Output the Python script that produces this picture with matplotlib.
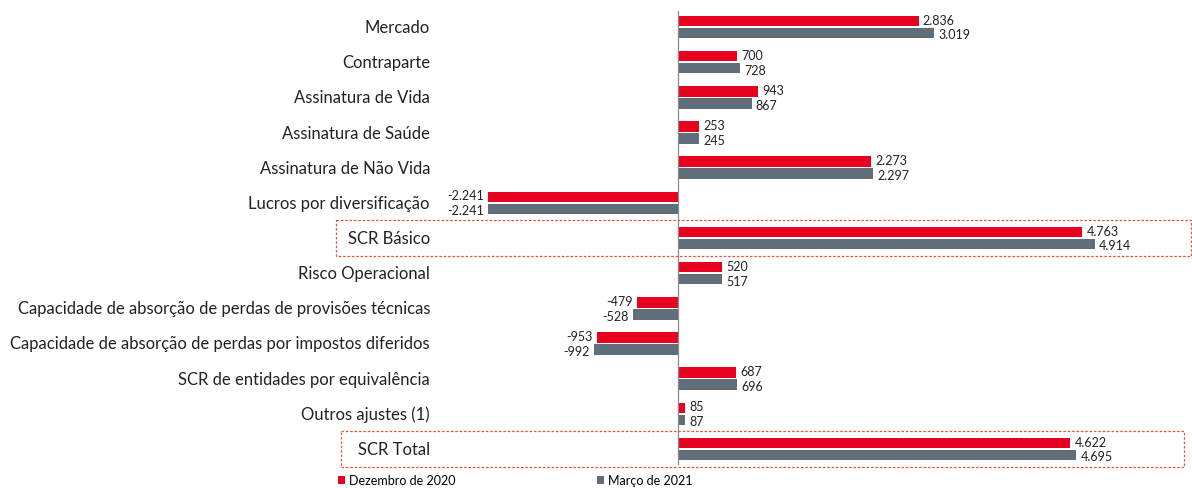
import matplotlib.pyplot as plt
from matplotlib.patches import Rectangle
from matplotlib.transforms import blended_transform_factory
import numpy as np

categories = [
    "Mercado",
    "Contraparte",
    "Assinatura de Vida",
    "Assinatura de Saúde",
    "Assinatura de Não Vida",
    "Lucros por diversificação",
    "SCR Básico",
    "Risco Operacional",
    "Capacidade de absorção de perdas de provisões técnicas",
    "Capacidade de absorção de perdas por impostos diferidos",
    "SCR de entidades por equivalência",
    "Outros ajustes (1)",
    "SCR Total",
]
dez_2020 = [2836, 700, 943, 253, 2273, -2241, 4763, 520, -479, -953, 687, 85, 4622]
mar_2021 = [3019, 728, 867, 245, 2297, -2241, 4914, 517, -528, -992, 696, 87, 4695]
series_names = ["Dezembro de 2020", "Março de 2021"]
boxed = ["SCR Básico", "SCR Total"]

RED = "#E8001F"
GREY = "#5F6E79"

plt.rcParams["font.family"] = ["Lato", "DejaVu Sans"]

W, H = 1192, 489
fig = plt.figure(figsize=(W / 100, H / 100), dpi=100)
# zero line sits at x=678px, 4914 reaches x=1095px
px_per_unit = (1095 - 678) / 4914
ax = fig.add_axes([0, (H - 466) / H, 1, (466 - 12) / H])
ax.set_xlim(-678 / px_per_unit, (W - 678) / px_per_unit)
ax.set_ylim(12.455, -0.455)

y = np.arange(len(categories))
bh = 0.3
off = 0.17
b1 = ax.barh(y - off, dez_2020, height=bh, color=RED, label=series_names[0])
b2 = ax.barh(y + off, mar_2021, height=bh, color=GREY, label=series_names[1])
ax.axvline(0, color="#8A8A8A", lw=0.9)


def fmt(v):
    return f"{v:,}".replace(",", ".")


for vals, yy, dy in ((dez_2020, y - off, 1), (mar_2021, y + off, -1)):
    for v, yv in zip(vals, yy):
        dx = 3 if v >= 0 else -3
        ax.annotate(fmt(v), (v, yv), xytext=(dx, dy), textcoords="offset points",
                    ha="left" if v >= 0 else "right", va="center", fontsize=9,
                    color="#222222")

trans = blended_transform_factory(fig.transFigure, ax.transData)
for i, c in enumerate(categories):
    ax.text(430 / W, i, c, transform=trans, ha="right", va="center",
            fontsize=12, color="#222222")

box_x = {"SCR Básico": (336, 1191), "SCR Total": (341, 1184)}
for c in boxed:
    i = categories.index(c)
    x0, x1 = box_x[c]
    ax.add_patch(Rectangle((x0 / W, i - 0.5), (x1 - x0) / W, 1.0, transform=trans,
                           fill=False, ec="#E8503A", ls=(0, (2, 1.5)), lw=0.9,
                           clip_on=False))

for s in ax.spines.values():
    s.set_visible(False)
ax.set_xticks([])
ax.set_yticks([])

fig.legend(handles=[b1, b2], loc="lower left", bbox_to_anchor=(330 / W, -0.012),
           ncol=2, frameon=False, fontsize=9, handlelength=0.6, handleheight=0.7,
           handletextpad=0.3, columnspacing=11.3, borderaxespad=0.2)

fig.savefig("out.png", dpi=100)
